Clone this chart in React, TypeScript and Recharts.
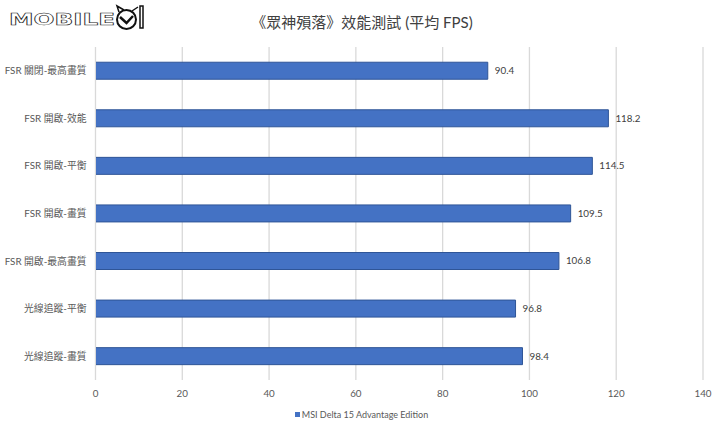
import React from 'react';
import { BarChart, Bar, XAxis, YAxis, CartesianGrid, LabelList, Legend } from 'recharts';

const categories = [
  'FSR 關閉-最高畫質',
  'FSR 開啟-效能',
  'FSR 開啟-平衡',
  'FSR 開啟-畫質',
  'FSR 開啟-最高畫質',
  '光線追蹤-平衡',
  '光線追蹤-畫質',
];
const fpsValues = [90.4, 118.2, 114.5, 109.5, 106.8, 96.8, 98.4];
const xTicks = [0, 20, 40, 60, 80, 100, 120, 140];
const seriesName = 'MSI Delta 15 Advantage Edition';
const titleText = '《眾神殞落》效能測試 (平均 FPS)';

const tableData = categories.map((name, i) => ({ name, fps: fpsValues[i] }));

const FONT = 'Lato, "Noto Sans CJK TC", sans-serif';

const Logo = () => (
  <svg width={150} height={34} style={{ position: 'absolute', left: 6, top: 3 }}>
    <text
      x={3}
      y={22}
      fontFamily="DejaVu Sans"
      fontSize={16}
      fontWeight={700}
      textLength={106}
      lengthAdjust="spacingAndGlyphs"
      fill="#fff"
      stroke="#222"
      strokeWidth={0.6}
    >
      MOBILE
    </text>
    <circle cx={120.5} cy={16.5} r={9.5} fill="#fff" stroke="#111" strokeWidth={2} />
    <path d="M114 14 L120.5 20 L127 13" fill="none" stroke="#111" strokeWidth={2.5} />
    <path d="M113 9 L111 3 L118 7 M126 8 L132 4" fill="none" stroke="#111" strokeWidth={1.5} />
    <path d="M134 3 L137 3 L137 25 L134 25 Z" fill="#fff" stroke="#111" strokeWidth={1.5} />
  </svg>
);

// single line label, recharts' own tick wraps on the space
const CategoryTick = ({ x, y, payload }: any) => (
  <text x={x - 1} y={y} dy={3.5} textAnchor="end" fontSize={9.8} fill="#595959" fontFamily={FONT}>
    {payload.value}
  </text>
);

const LegendRow = () => (
  <div style={{ display: 'flex', alignItems: 'center', justifyContent: 'center', paddingLeft: 20, fontSize: 9, color: '#595959', fontFamily: FONT, height: 13 }}>
    <span style={{ width: 5, height: 5, background: '#4472c4', marginRight: 2 }} />
    <span>{seriesName}</span>
  </div>
);

export default function App() {
  return (
    <div style={{ position: 'absolute', left: 0, top: 0, width: 720, height: 429, background: '#fff', fontFamily: FONT }}>
      <BarChart
        width={720}
        height={429}
        layout="vertical"
        data={tableData}
        margin={{ top: 47, right: 17, bottom: 8, left: 0 }}
        barCategoryGap="32%"
      >
        <CartesianGrid horizontal={false} stroke="#d9d9d9" strokeWidth={1.3} />
        <XAxis
          type="number"
          domain={[0, 140]}
          ticks={xTicks}
          axisLine={false}
          tickLine={false}
          tick={{ fontSize: 9.8, fill: '#595959', fontFamily: FONT }}
          tickMargin={4}
          height={28}
        />
        <YAxis
          type="category"
          dataKey="name"
          width={95.5}
          axisLine={{ stroke: '#d9d9d9' }}
          tickLine={false}
          tick={<CategoryTick />}
          interval={0}
        />
        <Legend verticalAlign="bottom" content={<LegendRow />} />
        <Bar dataKey="fps" name={seriesName} fill="#4472c4" stroke="#2f5597" strokeWidth={1} isAnimationActive={false}>
          <LabelList dataKey="fps" position="right" offset={7} style={{ fontSize: 9.8, fill: '#404040', fontFamily: FONT }} />
        </Bar>
      </BarChart>
      <Logo />
      <div style={{ position: 'absolute', left: 0, width: 720, top: 11, textAlign: 'center', fontSize: 15, color: '#404040', paddingLeft: 2 }}>
        {titleText}
      </div>
    </div>
  );
}
